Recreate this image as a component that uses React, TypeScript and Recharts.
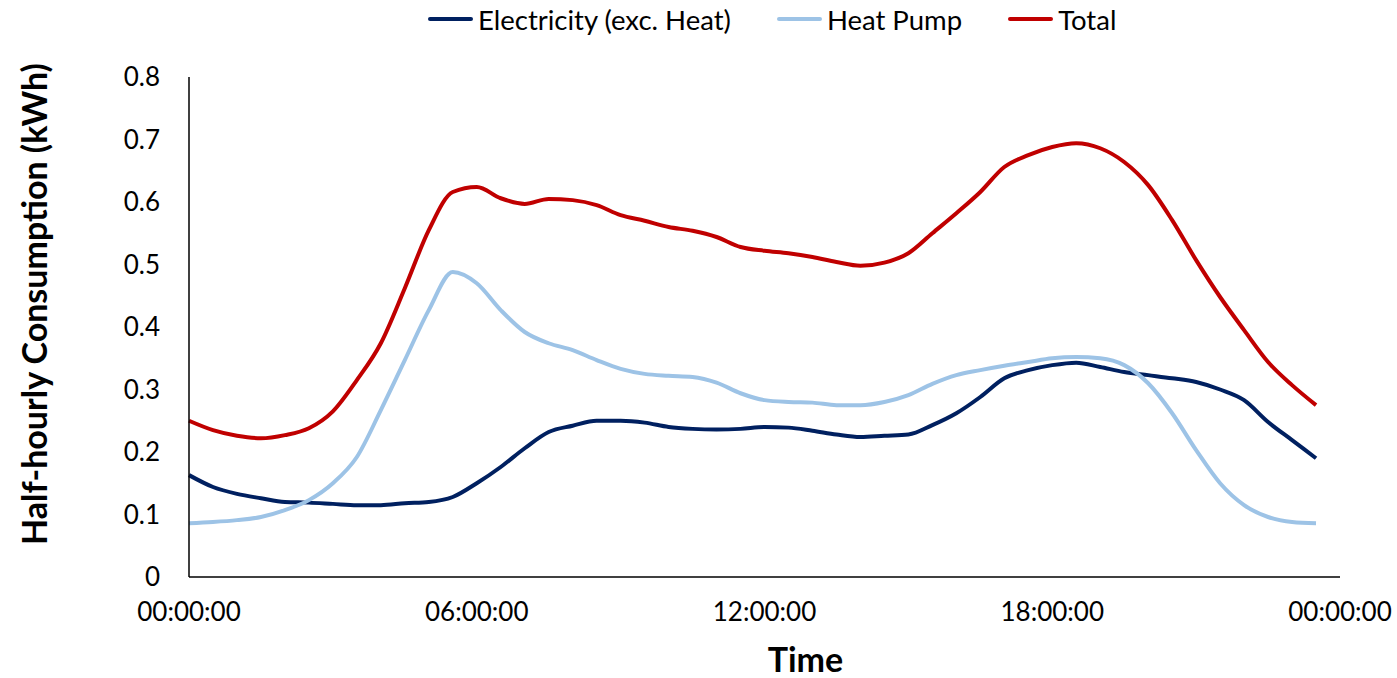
import React from 'react';
import { LineChart, Line, XAxis, YAxis } from 'recharts';

const slots = [
  '00:00','00:30','01:00','01:30','02:00','02:30','03:00','03:30','04:00','04:30','05:00','05:30',
  '06:00','06:30','07:00','07:30','08:00','08:30','09:00','09:30','10:00','10:30','11:00','11:30',
  '12:00','12:30','13:00','13:30','14:00','14:30','15:00','15:30','16:00','16:30','17:00','17:30',
  '18:00','18:30','19:00','19:30','20:00','20:30','21:00','21:30','22:00','22:30','23:00','23:30',
];

const electricity = [
  0.163,0.144,0.133,0.126,0.120,0.119,0.117,0.115,0.115,0.118,0.120,0.128,
  0.150,0.176,0.206,0.232,0.242,0.250,0.250,0.247,0.240,0.237,0.236,0.237,
  0.240,0.239,0.234,0.228,0.224,0.226,0.228,0.243,0.262,0.288,0.318,0.331,
  0.339,0.343,0.336,0.328,0.323,0.318,0.312,0.300,0.283,0.248,0.219,0.190,
];

const heatPump = [
  0.086,0.088,0.091,0.096,0.107,0.123,0.150,0.192,0.267,0.347,0.427,0.488,
  0.470,0.427,0.392,0.374,0.363,0.347,0.333,0.325,0.322,0.320,0.311,0.294,
  0.283,0.280,0.279,0.275,0.275,0.280,0.291,0.309,0.323,0.331,0.338,0.344,
  0.350,0.352,0.350,0.339,0.310,0.262,0.203,0.150,0.115,0.096,0.088,0.086,
];

const total = [
  0.250,0.235,0.226,0.222,0.227,0.238,0.265,0.315,0.374,0.462,0.555,0.616,
  0.624,0.606,0.597,0.605,0.603,0.595,0.579,0.570,0.560,0.554,0.544,0.528,
  0.522,0.518,0.512,0.504,0.498,0.503,0.518,0.550,0.582,0.616,0.656,0.675,
  0.688,0.694,0.686,0.664,0.627,0.571,0.507,0.448,0.395,0.344,0.307,0.275,
];

const xTicks = [0, 12, 24, 36, 48];
const xTickLabels = ['00:00:00', '06:00:00', '12:00:00', '18:00:00', '00:00:00'];
const yTicks = [0, 0.1, 0.2, 0.3, 0.4, 0.5, 0.6, 0.7, 0.8];

const seriesNames = ['Electricity (exc. Heat)', 'Heat Pump', 'Total'];
const seriesKeys = ['electricity', 'heatPump', 'total'];
const seriesColors = ['#002060', '#9DC3E6', '#C00000'];

const data = slots.map((s, i) => ({
  slot: i,
  label: s,
  electricity: electricity[i],
  heatPump: heatPump[i],
  total: total[i],
}));

const FONT = 'Lato, "Open Sans", sans-serif';

const YTitle = (props: any) => {
  const vb = props.viewBox || {};
  const cx = 33;
  const cy = vb.y + vb.height / 2 - 23;
  return (
    <text
      x={cx}
      y={cy}
      transform={`rotate(-90, ${cx}, ${cy})`}
      textAnchor="middle"
      dominantBaseline="central"
      fontFamily={FONT}
      fontWeight={700}
      fontSize={34}
      fill="#000"
    >
      Half-hourly Consumption (kWh)
    </text>
  );
};

const XTitle = (props: any) => {
  const vb = props.viewBox || {};
  const cx = vb.x + vb.width / 2 + 41;
  const cy = vb.y + 95;
  return (
    <text
      x={cx}
      y={cy}
      textAnchor="middle"
      fontFamily={FONT}
      fontWeight={700}
      fontSize={34}
      fill="#000"
    >
      Time
    </text>
  );
};

export default function App() {
  return (
    <div style={{ position: 'absolute', top: 0, left: 0, width: 1397, height: 678, background: '#fff', overflow: 'hidden' }}>
      <div
        style={{
          position: 'absolute',
          top: 1,
          left: 428,
          display: 'flex',
          alignItems: 'center',
          height: 36,
          fontFamily: FONT,
          fontSize: 27.5,
          color: '#000',
          whiteSpace: 'nowrap',
        }}
      >
        {seriesNames.map((n, i) => (
          <div key={n} style={{ display: 'flex', alignItems: 'center', marginRight: i < 2 ? 46 : 0 }}>
            <div style={{ width: 45, height: 4, borderRadius: 2, background: seriesColors[i], marginRight: 5 }} />
            <span>{n}</span>
          </div>
        ))}
      </div>
      <LineChart
        width={1397}
        height={678}
        data={data}
        margin={{ top: 77, right: 57, left: 0, bottom: 41 }}
      >
        <XAxis
          dataKey="slot"
          type="number"
          domain={[0, 48]}
          ticks={xTicks}
          tickFormatter={(v: number) => xTickLabels[xTicks.indexOf(v)]}
          interval={0}
          height={60}
          tickSize={0}
          tickMargin={26}
          axisLine={{ stroke: '#000', strokeWidth: 1.5 }}
          tickLine={false}
          tick={{ fill: '#000', fontSize: 26, fontFamily: FONT }}
          label={{ content: XTitle }}
        />
        <YAxis
          type="number"
          domain={[0, 0.8]}
          ticks={yTicks}
          interval={0}
          width={189}
          tickSize={0}
          tickMargin={29}
          tickFormatter={(v: number) => (v === 0 ? '0' : String(Math.round(v * 10) / 10))}
          axisLine={{ stroke: '#000', strokeWidth: 1.5 }}
          tickLine={false}
          tick={{ fill: '#000', fontSize: 26, fontFamily: FONT }}
          label={{ content: YTitle }}
        />
        {seriesKeys.map((k, i) => (
          <Line
            key={k}
            type="monotone"
            dataKey={k}
            name={seriesNames[i]}
            stroke={seriesColors[i]}
            strokeWidth={4}
            dot={false}
            activeDot={false}
            isAnimationActive={false}
          />
        ))}
      </LineChart>
    </div>
  );
}
